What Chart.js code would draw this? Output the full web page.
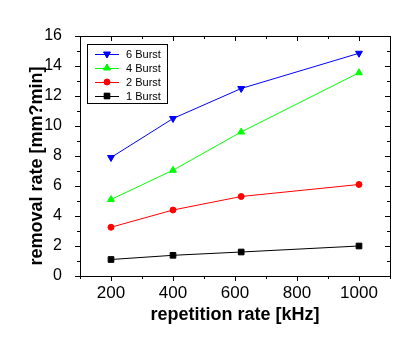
<!DOCTYPE html>
<html>
<head>
<meta charset="utf-8">
<script src="https://cdn.jsdelivr.net/npm/chart.js@4.4.1/dist/chart.umd.min.js"></script>
<style>
  html, body { margin: 0; padding: 0; background: #fff; }
  canvas { display: block; }
</style>
</head>
<body>
<canvas id="chart" width="414" height="348"></canvas>
<script>
// data
const repRate = [200, 400, 620, 1000];
const burst6 = [7.9, 10.5, 12.5, 14.85];
const burst4 = [5.1, 7.05, 9.6, 13.55];
const burst2 = [3.25, 4.4, 5.3, 6.1];
const burst1 = [1.1, 1.38, 1.6, 2.0];
const seriesNames = ["6 Burst", "4 Burst", "2 Burst", "1 Burst"];
const xLabelTicks = [200, 400, 600, 800, 1000];
const yLabelTicks = [0, 2, 4, 6, 8, 10, 12, 14, 16];
const xTitle = "repetition rate [kHz]";
const yTitle = "removal rate [mm?min]";

const FONT = "'Liberation Sans', Arial, sans-serif";

function pts(ys) {
  return repRate.map((x, i) => ({ x: x, y: ys[i] }));
}

function series(label, ys, color, style, rot, r) {
  return {
    label: label,
    data: pts(ys),
    borderColor: color,
    backgroundColor: color,
    borderWidth: 1,
    pointStyle: style,
    rotation: rot,
    pointRadius: r,
    pointBorderWidth: 1,
    tension: 0
  };
}

// frame, tick marks on all four sides, axis titles and the boxed legend
const framePlugin = {
  id: "frame",
  afterDraw(chart) {
    const ctx = chart.ctx;
    const a = chart.chartArea;
    const xs = chart.scales.x, ys = chart.scales.y;
    ctx.save();
    ctx.strokeStyle = "#000";
    ctx.lineWidth = 1;
    ctx.strokeRect(Math.round(a.left) + 0.5, Math.round(a.top) + 0.5,
      Math.round(a.right - a.left), Math.round(a.bottom - a.top));

    ctx.beginPath();
    xs.ticks.forEach(t => {
      const px = Math.round(xs.getPixelForValue(t.value)) + 0.5;
      const len = xLabelTicks.includes(t.value) ? 5 : 3;
      ctx.moveTo(px, a.bottom); ctx.lineTo(px, a.bottom + len);
      ctx.moveTo(px, a.top); ctx.lineTo(px, a.top + len);
    });
    ys.ticks.forEach(t => {
      const py = Math.round(ys.getPixelForValue(t.value)) + 0.5;
      const len = yLabelTicks.includes(t.value) ? 5 : 3;
      ctx.moveTo(a.left, py); ctx.lineTo(a.left - len, py);
      ctx.moveTo(a.right, py); ctx.lineTo(a.right - len, py);
    });
    ctx.stroke();

    // axis titles
    ctx.fillStyle = "#000";
    ctx.font = "bold 18px " + FONT;
    ctx.textAlign = "center";
    ctx.textBaseline = "alphabetic";
    ctx.fillText(xTitle, (a.left + a.right) / 2, 320);
    ctx.save();
    ctx.translate(42, 166);
    ctx.rotate(-Math.PI / 2);
    ctx.fillText(yTitle, 0, 0);
    ctx.restore();

    // legend
    const bx = 87, by = 44, bw = 80, bh = 59;
    ctx.strokeRect(bx + 0.5, by + 0.5, bw, bh);
    ctx.font = "11px " + FONT;
    ctx.textAlign = "left";
    ctx.textBaseline = "middle";
    chart.data.datasets.forEach((ds, i) => {
      const y = by + 10 + i * 14;
      ctx.strokeStyle = ds.borderColor;
      ctx.beginPath();
      ctx.moveTo(95, y + 0.5); ctx.lineTo(119, y + 0.5);
      ctx.stroke();
      Chart.helpers.drawPoint(ctx, {
        pointStyle: ds.pointStyle, rotation: ds.rotation,
        radius: ds.pointRadius, borderWidth: 1
      }, 107, y);
      ctx.fillStyle = ds.backgroundColor;
      ctx.fill();
      ctx.fillStyle = "#000";
      ctx.fillText(ds.label, 126, y + 1);
    });
    ctx.restore();
  }
};

new Chart(document.getElementById("chart"), {
  type: "line",
  data: {
    datasets: [
      series(seriesNames[0], burst6, "#0000ff", "triangle", 180, 4),
      series(seriesNames[1], burst4, "#00ff00", "triangle", 0, 4),
      series(seriesNames[2], burst2, "#ff0000", "circle", 0, 3),
      series(seriesNames[3], burst1, "#000000", "rect", 0, 4)
    ]
  },
  options: {
    responsive: false,
    animation: false,
    devicePixelRatio: 1,
    layout: { padding: { left: 0, top: 36, right: 24, bottom: 0 } },
    plugins: { legend: { display: false }, tooltip: { enabled: false } },
    scales: {
      x: {
        type: "linear",
        min: 100,
        max: 1100,
        grid: { display: false },
        border: { display: false },
        ticks: {
          stepSize: 100,
          autoSkip: false,
          maxRotation: 0,
          padding: -1,
          color: "#000",
          font: { family: FONT, size: 17 },
          callback: v => (xLabelTicks.includes(v) ? String(v) : "")
        },
        afterFit: s => { s.height = 72; }
      },
      y: {
        min: 0,
        max: 16,
        grid: { display: false },
        border: { display: false },
        ticks: {
          stepSize: 1,
          autoSkip: false,
          padding: 10,
          color: "#000",
          font: { family: FONT, size: 16 },
          callback: v => (yLabelTicks.includes(v) ? String(v) : "")
        },
        afterFit: s => { s.width = 80; }
      }
    }
  },
  plugins: [framePlugin]
});
</script>
</body>
</html>
